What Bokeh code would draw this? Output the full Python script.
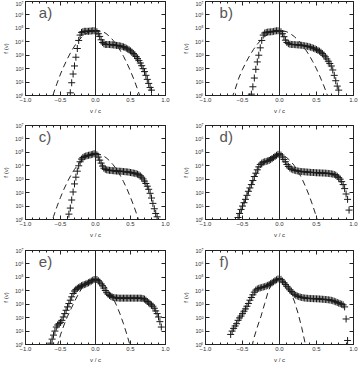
import numpy as np
from bokeh.plotting import figure
from bokeh.layouts import gridplot
from bokeh.models import FixedTicker, LinearAxis, LogAxis, Span, Label, Range1d
from bokeh.embed import file_html
from bokeh.resources import INLINE

# ---------------------------------------------------------------------------
# Velocity distributions f(v) (log10 values) sampled on a uniform v/c grid,
# plus the dashed Maxwellian reference curve of each snapshot.
# ---------------------------------------------------------------------------
V_STEP = 0.02
FIT_STEP = 0.05

panel_tags = ["a)", "b)", "c)", "d)", "e)", "f)"]

v0_a = -0.36
logf_a = [0.2, 0.95, 1.6, 2.2, 2.85, 3.5, 4.1, 4.5, 4.7, 4.75, 4.78, 4.78, 4.78, 4.78,
          4.8, 4.8, 4.82, 4.82, 4.82, 4.75, 4.6, 4.4, 4.15, 3.95, 3.85, 3.8, 3.8, 3.8,
          3.8, 3.78, 3.78, 3.76, 3.75, 3.73, 3.72, 3.7, 3.68, 3.65, 3.62, 3.58, 3.52,
          3.46, 3.4, 3.32, 3.23, 3.13, 3.02, 2.9, 2.75, 2.6, 2.42, 2.22, 2.0, 1.78,
          1.5, 1.2, 0.9, 0.6, 0.4]

v0_b = -0.38
logf_b = [0.1, 0.65, 1.3, 1.95, 2.5, 3.0, 3.55, 4.1, 4.5, 4.65, 4.7, 4.72, 4.73, 4.74,
          4.75, 4.77, 4.8, 4.82, 4.82, 4.8, 4.75, 4.6, 4.38, 4.12, 3.95, 3.86, 3.82,
          3.8, 3.8, 3.79, 3.78, 3.77, 3.76, 3.75, 3.74, 3.72, 3.7, 3.68, 3.66, 3.63,
          3.6, 3.56, 3.52, 3.47, 3.42, 3.36, 3.3, 3.22, 3.12, 3.0, 2.88, 2.72, 2.55,
          2.38, 2.2, 1.9, 1.5, 1.1, 0.7, 0.4]

v0_c = -0.40
logf_c = [0.0, 0.4, 0.85, 1.45, 2.05, 2.65, 3.15, 3.6, 4.0, 4.3, 4.5, 4.62, 4.68, 4.72,
          4.75, 4.78, 4.8, 4.83, 4.86, 4.9, 4.93, 4.82, 4.65, 4.42, 4.2, 3.98, 3.82,
          3.74, 3.7, 3.68, 3.66, 3.65, 3.64, 3.63, 3.62, 3.61, 3.6, 3.6, 3.59, 3.58,
          3.57, 3.56, 3.55, 3.54, 3.52, 3.5, 3.48, 3.46, 3.44, 3.41, 3.37, 3.32, 3.25,
          3.15, 3.02, 2.86, 2.68, 2.48, 2.25, 1.95, 1.6, 1.2, 0.8, 0.45, 0.2]

v0_d = -0.56
logf_d = [0.15, 0.45, 0.75, 1.0, 1.25, 1.5, 1.8, 2.1, 2.35, 2.6, 2.9, 3.2, 3.45, 3.7,
          3.92, 4.1, 4.2, 4.26, 4.3, 4.33, 4.36, 4.4, 4.46, 4.53, 4.62, 4.7, 4.78, 4.85,
          4.9, 4.8, 4.65, 4.47, 4.3, 4.1, 3.95, 3.83, 3.76, 3.71, 3.67, 3.64, 3.62,
          3.6, 3.58, 3.57, 3.56, 3.55, 3.54, 3.53, 3.52, 3.51, 3.5, 3.5, 3.49, 3.48,
          3.48, 3.47, 3.47, 3.46, 3.46, 3.45, 3.44, 3.43, 3.42, 3.4, 3.38, 3.35, 3.3,
          3.22, 3.12, 3.0, 2.82, 2.6, 2.3, 1.9, 1.5, 0.7]

v0_e = -0.64
logf_e = [0.1, 0.4, 0.7, 1.0, 1.3, 1.45, 1.55, 1.65, 1.8, 2.05, 2.3, 2.55, 2.8, 3.05,
          3.3, 3.55, 3.8, 3.98, 4.1, 4.18, 4.25, 4.32, 4.38, 4.42, 4.46, 4.5, 4.55,
          4.6, 4.66, 4.72, 4.78, 4.84, 4.88, 4.84, 4.75, 4.65, 4.52, 4.37, 4.2, 4.02,
          3.86, 3.74, 3.65, 3.58, 3.53, 3.5, 3.48, 3.47, 3.46, 3.45, 3.45, 3.45, 3.45,
          3.45, 3.45, 3.45, 3.45, 3.45, 3.45, 3.45, 3.45, 3.45, 3.45, 3.45, 3.45, 3.44,
          3.42, 3.38, 3.3, 3.2, 3.1, 3.02, 2.95, 2.85, 2.7, 2.5, 2.3, 2.05, 1.7, 1.3]

v0_f = -0.66
logf_f = [0.75, 1.0, 1.2, 1.38, 1.55, 1.8, 1.98, 2.12, 2.3, 2.48, 2.65, 2.85, 3.05,
          3.3, 3.5, 3.7, 3.9, 4.05, 4.13, 4.18, 4.22, 4.25, 4.28, 4.31, 4.35, 4.4,
          4.46, 4.53, 4.6, 4.67, 4.75, 4.82, 4.88, 4.9, 4.85, 4.72, 4.6, 4.47, 4.33,
          4.2, 4.07, 3.95, 3.84, 3.74, 3.67, 3.61, 3.57, 3.53, 3.5, 3.48, 3.46, 3.45,
          3.44, 3.43, 3.42, 3.42, 3.41, 3.41, 3.4, 3.4, 3.39, 3.38, 3.37, 3.36, 3.35,
          3.34, 3.33, 3.31, 3.29, 3.26, 3.22, 3.18, 3.13, 3.08, 3.04, 3.0, 2.95, 2.8,
          1.9, 0.3]

# dashed Maxwellian reference curves (log10 f)
fit_v0_a = -0.65
fit_a = [-0.7, 0.15, 0.9, 1.6, 2.2, 2.75, 3.25, 3.68, 4.04, 4.33, 4.56, 4.72, 4.82, 4.85,
         4.84, 4.76, 4.62, 4.4, 4.12, 3.78, 3.38, 2.92, 2.4, 1.82, 1.18, 0.48, -0.3]
fit_v0_b = -0.70
fit_b = [-0.9, -0.3, 0.45, 1.3, 1.95, 2.5, 3.0, 3.44, 3.82, 4.13, 4.39, 4.59, 4.74, 4.82,
         4.85, 4.82, 4.74, 4.59, 4.39, 4.13, 3.82, 3.44, 3.01, 2.52, 1.98, 1.37, 0.71,
         -0.01, -0.79]
fit_v0_c = -0.65
fit_c = [-0.59, 0.22, 0.97, 1.65, 2.27, 2.82, 3.31, 3.73, 4.09, 4.38, 4.61, 4.77, 4.87,
         4.9, 4.87, 4.77, 4.61, 4.38, 4.09, 3.73, 3.31, 2.82, 2.27, 1.65, 0.97, 0.22,
         -0.59]
fit_v0_d = -0.60
fit_d = [-0.97, -0.01, 0.86, 1.65, 2.35, 2.97, 3.49, 3.94, 4.29, 4.56, 4.74, 4.83, 4.84,
         4.77, 4.6, 4.35, 4.01, 3.59, 3.08, 2.48, 1.8, 1.03, 0.17, -0.77]
fit_v0_e = -0.55
fit_e = [-0.19, 0.72, 1.45, 2.1, 2.65, 3.2, 3.7, 4.15, 4.5, 4.75, 4.84, 4.84, 4.75, 4.56,
         4.29, 3.92, 3.47, 2.92, 2.28, 1.54, 0.72, -0.19]
fit_v0_f = -0.40
fit_f = [-0.9, 0.4, 1.3, 2.1, 3.05, 4.0, 4.55, 4.82, 4.9, 4.76, 4.44, 3.93, 3.23, 2.34,
         1.27, 0.0, -1.45]

# axes
x_ticks = [-1.0, -0.5, 0.0, 0.5, 1.0]
x_tick_labels = ["\u22121.0", "\u22120.5", "0.0", "0.5", "1.0"]
x_minor = [-0.9, -0.8, -0.7, -0.6, -0.4, -0.3, -0.2, -0.1,
           0.1, 0.2, 0.3, 0.4, 0.6, 0.7, 0.8, 0.9]
y_exponents = [0, 1, 2, 3, 4, 5, 6, 7]
y_tick_labels = ["10\u2070", "10\u00b9", "10\u00b2", "10\u00b3",
                 "10\u2074", "10\u2075", "10\u2076", "10\u2077"]

FONT = "Liberation Sans"
INK = "#333333"


def tick_style(ax):
    ax.axis_line_color = "#222222"
    ax.major_tick_line_color = "#222222"
    ax.minor_tick_line_color = "#222222"
    ax.major_tick_in = 4
    ax.major_tick_out = 0
    ax.minor_tick_in = 2
    ax.minor_tick_out = 0


def make_panel(tag, v0, logf, fv0, flogf, width, height, borders):
    left, right, top, bottom = borders
    p = figure(width=width, height=height, x_range=Range1d(-1, 1),
               y_range=Range1d(1, 1e7), y_axis_type="log",
               output_backend="svg", toolbar_location=None,
               min_border_left=left, min_border_right=right,
               min_border_top=top, min_border_bottom=bottom)
    p.grid.visible = False
    p.outline_line_color = "#222222"
    p.outline_line_width = 1
    p.background_fill_color = "white"
    p.border_fill_color = "white"

    xt = FixedTicker(ticks=x_ticks, minor_ticks=x_minor)
    yt = FixedTicker(ticks=[10 ** k for k in y_exponents], minor_ticks=[])

    xa = p.xaxis[0]
    xa.ticker = xt
    xa.major_label_overrides = {t: s for t, s in zip(x_ticks, x_tick_labels)}
    xa.axis_label = "v / c"
    ya = p.yaxis[0]
    ya.ticker = yt
    ya.major_label_overrides = {10 ** k: s for k, s in zip(y_exponents, y_tick_labels)}
    ya.axis_label = "f (v)"

    for ax in (xa, ya):
        tick_style(ax)
        ax.major_label_text_font = FONT
        ax.major_label_text_font_size = "6px"
        ax.major_label_text_color = INK
        ax.axis_label_text_font = FONT
        ax.axis_label_text_font_size = "6px"
        ax.axis_label_text_font_style = "normal"
        ax.axis_label_text_color = INK
        ax.major_label_standoff = 2
        ax.axis_label_standoff = 3
    ya.major_label_text_font_size = "5.5px"

    # mirrored axes carrying ticks only
    top_ax = LinearAxis(ticker=xt)
    right_ax = LogAxis(ticker=yt)
    for ax in (top_ax, right_ax):
        tick_style(ax)
        ax.major_label_text_font_size = "1px"
        ax.major_label_text_alpha = 0.0
        ax.major_label_standoff = 0
    p.add_layout(top_ax, "above")
    p.add_layout(right_ax, "right")

    p.add_layout(Span(location=0, dimension="height", line_color="#222222", line_width=1))

    fv = fv0 + FIT_STEP * np.arange(len(flogf))
    p.line(fv, 10.0 ** np.asarray(flogf), line_color="#222222", line_width=1,
           line_dash="6 4")

    v = v0 + V_STEP * np.arange(len(logf))
    p.scatter(v, 10.0 ** np.asarray(logf), marker="cross", size=7,
              line_color="#1a1a1a", line_width=1)

    p.add_layout(Label(x=-0.81, y=10 ** 6.2, text=tag, text_font=FONT,
                       text_font_size="15px", text_color="#555555",
                       text_baseline="middle", text_align="left"))
    return p


data = [(v0_a, logf_a, fit_v0_a, fit_a), (v0_b, logf_b, fit_v0_b, fit_b),
        (v0_c, logf_c, fit_v0_c, fit_c), (v0_d, logf_d, fit_v0_d, fit_d),
        (v0_e, logf_e, fit_v0_e, fit_e), (v0_f, logf_f, fit_v0_f, fit_f)]

row_heights = [122, 123, 123]
row_tops = [1, 3, 5]
col_lr = [(17, 15), (22, 7)]

panels = []
for i, (tag, d) in enumerate(zip(panel_tags, data)):
    r, c = divmod(i, 2)
    h = row_heights[r]
    t = row_tops[r]
    left, right = col_lr[c]
    borders = (left, right, t, h - t - 94)
    panels.append(make_panel(tag, *d, 180, h, borders))

grid = gridplot([panels[0:2], panels[2:4], panels[4:6]], toolbar_location=None)

open("out.html", "w").write(file_html(grid, INLINE))
